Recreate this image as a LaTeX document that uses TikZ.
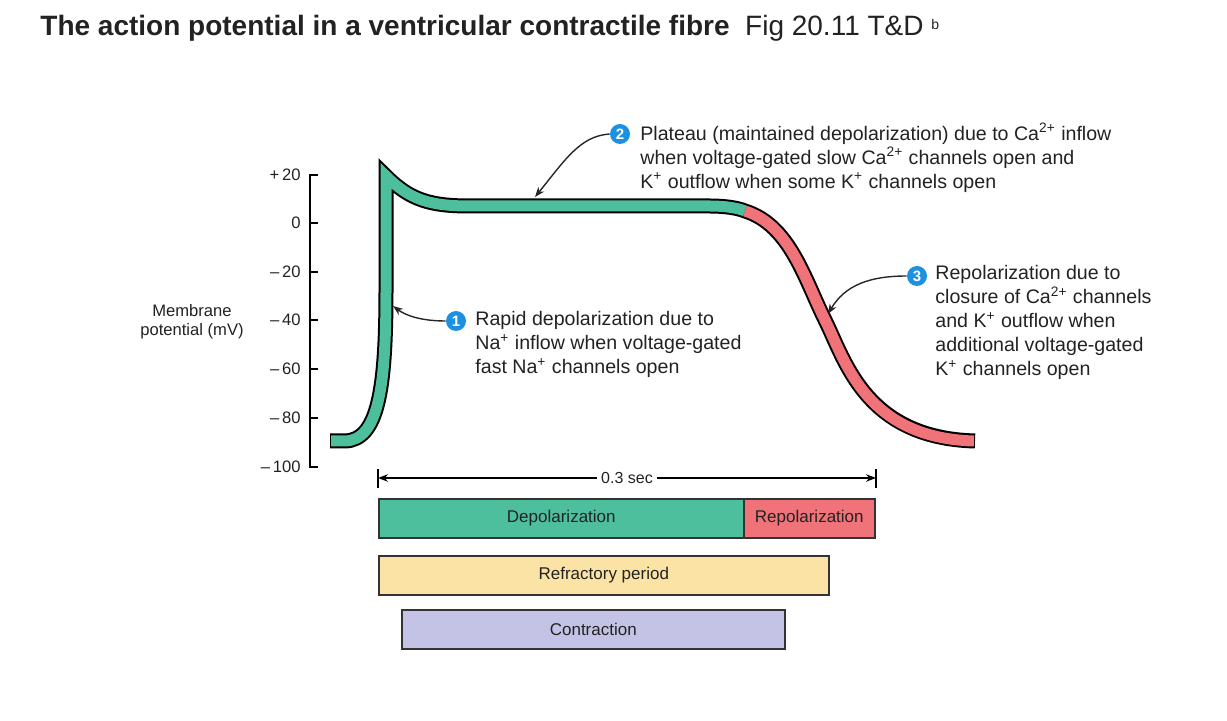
\documentclass[tikz,border=0pt]{standalone}
\usepackage{fontspec}
\setmainfont{Liberation Sans}
\usetikzlibrary{arrows.meta}
\definecolor{gr}{HTML}{4DBF9D}
\definecolor{rd}{HTML}{F0737A}
\definecolor{ye}{HTML}{FBE3A6}
\definecolor{la}{HTML}{C5C3E5}
\definecolor{bl}{HTML}{1E90E0}
\definecolor{tx}{HTML}{222222}
\begin{document}
\begin{tikzpicture}[x=0.5pt,y=-0.5pt,
  lab/.style={font=\fontsize{9.8}{12}\selectfont,text=tx,align=left,anchor=north west,inner sep=0},
  tick/.style={font=\fontsize{8.3}{9}\selectfont,text=tx,anchor=east,inner sep=1},
  num/.style={circle,fill=bl,text=white,font=\bfseries\fontsize{7.5}{8}\selectfont,minimum size=10pt,inner sep=0},
  bar/.style={draw=black!80,line width=0.8pt,font=\fontsize{8.5}{10}\selectfont,text=tx,anchor=north west,inner sep=0},
  ann/.style={-{Stealth[length=5pt]},line width=0.7pt,black!85}]
\useasboundingbox (0,0) rectangle (1227,721);
\node[anchor=west,inner sep=0,font=\fontsize{14}{16}\selectfont,text=tx] (title) at (40,28) {\textbf{The action potential in a ventricular contractile fibre}\ \ Fig 20.11 T\&D {\fontsize{7}{8}\selectfont\raisebox{3pt}{b}}};
% axis
\draw[line width=0.7pt] (318,175) -- (310,175) -- (310,467) -- (318,467);
\foreach \y/\t in {175/+\,20,223/0,272/{--\,20},320/{--\,40},369/{--\,60},418/{--\,80},467/{--\,100}}{
  \draw[line width=0.7pt] (310,\y) -- (318,\y);
  \node[tick] at (303,\y) {\t};}
\node[font=\fontsize{8.3}{9.5}\selectfont,text=tx,align=center] (ylab) at (192,322) {Membrane\\potential (mV)};
% curve
\draw[line width=7.5pt,black,line join=miter,miter limit=20] (330,441) -- (345,441) .. controls (378,440) and (386,390) .. (386,290) -- (386,176) .. controls (410,200) and (430,206) .. (470,206) -- (710,206) .. controls (725,206) and (738,208) .. (745,211) .. controls (790,225) and (805,280) .. (825,320) .. controls (845,360) and (865,438) .. (975,441);
\draw[line width=5.5pt,gr,line join=miter,miter limit=20] (331,441) -- (345,441) .. controls (378,440) and (386,390) .. (386,290) -- (386,176) .. controls (410,200) and (430,206) .. (470,206) -- (710,206) .. controls (725,206) and (738,208) .. (745,211);
\draw[line width=5.5pt,rd] (745,211) .. controls (790,225) and (805,280) .. (825,320) .. controls (845,360) and (865,438) .. (974,441);
% time span
\coordinate (tl) at (378,478); \coordinate (tr) at (876,478);
\draw[line width=0.7pt] (378,469) -- (378,488) (876,469) -- (876,488);
\draw[{Stealth[length=5pt]}-{Stealth[length=5pt]},line width=0.7pt] (tl) -- node[fill=white,font=\fontsize{8}{9}\selectfont,text=tx,inner sep=2pt] {0.3 sec} (tr);
% bars
\node[bar,fill=gr,minimum width=182.5pt,minimum height=19.5pt] (dep) at (378,498) {Depolarization};
\node[bar,fill=rd,minimum width=65.5pt,minimum height=19.5pt] (rep) at (743,498) {Repolarization};
\node[bar,fill=ye,minimum width=225pt,minimum height=19.5pt] (ref) at (378,555) {Refractory period};
\node[bar,fill=la,minimum width=191.5pt,minimum height=19.5pt] (con) at (401,609) {Contraction};
% annotations
\node[num] (n1) at (456,321) {1};
\node[lab] (t1) at (475,311) {Rapid depolarization due to\\Na\textsuperscript{+} inflow when voltage-gated\\fast Na\textsuperscript{+} channels open};
\coordinate (a1) at (393,306);
\draw[ann] (n1.west) .. controls (420,321) and (405,315) .. (a1);
\node[num] (n2) at (620,134) {2};
\node[lab] (t2) at (640,123) {Plateau (maintained depolarization) due to Ca\textsuperscript{2+} inflow\\when voltage-gated slow Ca\textsuperscript{2+} channels open and\\K\textsuperscript{+} outflow when some K\textsuperscript{+} channels open};
\coordinate (a2) at (535,197);
\draw[ann] (n2.west) .. controls (580,136) and (565,160) .. (a2);
\node[num] (n3) at (917,276) {3};
\node[lab] (t3) at (935,265) {Repolarization due to\\closure of Ca\textsuperscript{2+} channels\\and K\textsuperscript{+} outflow when\\additional voltage-gated\\K\textsuperscript{+} channels open};
\coordinate (a3) at (828,314);
\draw[ann] (n3.west) .. controls (870,276) and (845,285) .. (a3);
\end{tikzpicture}
\end{document}
